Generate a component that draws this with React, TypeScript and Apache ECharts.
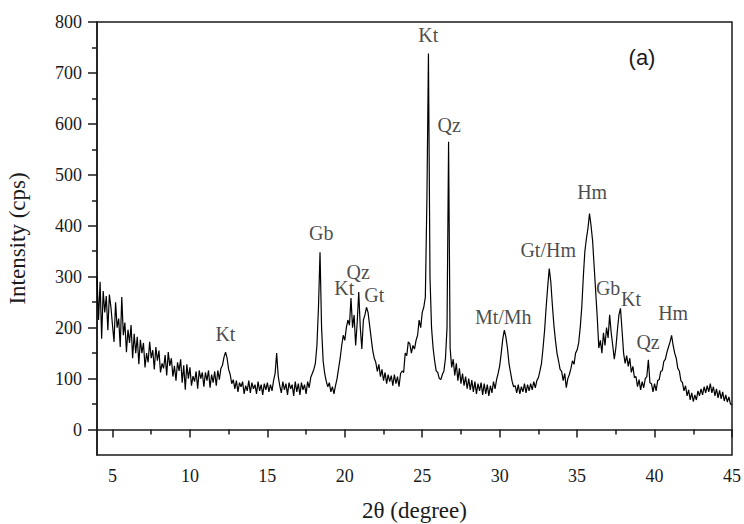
import React, { useEffect, useRef } from "react";
import * as echarts from "echarts";

// 2θ grid of the scan (degrees)
const START_ANGLE = 4.0;
const STEP_ANGLE = 0.1;

// Intensity (cps), one row per degree (x.0 ... x.9)
const intensity = [
  300, 215, 290, 178, 272, 230, 262, 195, 265, 240, // 4
  205, 172, 250, 200, 218, 162, 260, 185, 210, 152, // 5
  196, 170, 205, 140, 188, 150, 182, 128, 176, 150, // 6
  170, 122, 150, 132, 172, 140, 156, 118, 162, 135, // 7
  155, 112, 130, 120, 146, 106, 152, 125, 140, 104, // 8
  125, 96, 132, 115, 138, 92, 126, 78, 128, 100, // 9
  122, 86, 105, 94, 114, 80, 116, 100, 112, 84, // 10
  112, 96, 116, 82, 108, 92, 114, 86, 116, 98, // 11
  120, 126, 142, 152, 140, 118, 108, 90, 98, 80, // 12
  96, 74, 92, 84, 94, 70, 86, 76, 96, 72, // 13
  92, 80, 88, 70, 94, 76, 88, 68, 90, 78, // 14
  92, 74, 88, 76, 96, 110, 150, 105, 86, 72, // 15
  94, 78, 90, 68, 92, 80, 88, 66, 94, 74, // 16
  90, 68, 92, 78, 88, 70, 94, 82, 102, 110, // 17
  118, 130, 165, 240, 348, 200, 135, 110, 95, 84, // 18
  92, 74, 84, 70, 86, 100, 120, 140, 165, 185, // 19
  175, 200, 215, 205, 258, 200, 225, 165, 210, 270, // 20
  200, 158, 215, 225, 240, 230, 205, 180, 156, 140, // 21
  132, 114, 128, 104, 118, 96, 112, 90, 108, 94, // 22
  106, 86, 108, 90, 104, 84, 110, 115, 112, 150, // 23
  145, 172, 168, 150, 165, 158, 175, 185, 215, 200, // 24
  230, 240, 260, 450, 738, 300, 200, 160, 135, 115, // 25
  112, 100, 98, 108, 115, 140, 200, 565, 160, 122, // 26
  138, 106, 130, 96, 120, 90, 110, 86, 104, 80, // 27
  100, 78, 97, 74, 94, 70, 90, 76, 92, 68, // 28
  90, 70, 88, 66, 86, 72, 94, 80, 98, 110, // 29
  125, 150, 178, 195, 182, 160, 130, 112, 95, 84, // 30
  86, 72, 88, 70, 84, 74, 90, 72, 88, 76, // 31
  90, 78, 94, 82, 96, 102, 115, 130, 160, 195, // 32
  240, 280, 316, 290, 245, 205, 175, 150, 135, 118, // 33
  114, 96, 110, 82, 100, 108, 120, 135, 128, 150, // 34
  156, 170, 200, 240, 300, 350, 375, 395, 424, 400, // 35
  370, 320, 270, 220, 160, 175, 150, 190, 165, 200, // 36
  180, 225, 190, 165, 138, 160, 195, 225, 238, 195, // 37
  150, 130, 145, 124, 140, 112, 124, 102, 104, 84, // 38
  98, 78, 94, 82, 100, 104, 137, 92, 90, 74, // 39
  90, 76, 96, 98, 114, 116, 134, 138, 152, 162, // 40
  172, 185, 165, 150, 140, 120, 115, 96, 92, 76, // 41
  86, 66, 78, 58, 72, 55, 68, 58, 76, 66, // 42
  80, 68, 84, 72, 86, 74, 90, 72, 84, 66, // 43
  80, 62, 77, 60, 74, 56, 68, 54, 64, 50, // 44
  48, // 45
];

const xTickValues = [5, 10, 15, 20, 25, 30, 35, 40, 45];
const xMinorTickValues = [7.5, 12.5, 17.5, 22.5, 27.5, 32.5, 37.5, 42.5];
const yTickValues = [0, 100, 200, 300, 400, 500, 600, 700, 800];
const yMinorTickValues = [50, 150, 250, 350, 450, 550, 650, 750];

const peakLabels = ["Kt", "Gb", "Kt", "Qz", "Gt", "Kt", "Qz", "Mt/Mh", "Gt/Hm", "Hm", "Gb", "Kt", "Qz", "Hm"];
const peakLabelX = [12.29, 18.48, 19.97, 20.87, 21.9, 25.39, 26.74, 30.23, 33.13, 35.97, 37.0, 38.48, 39.58, 41.2];
const peakLabelY = [188, 385, 277, 309, 264, 774, 597, 220, 352, 466, 277, 256, 172, 229];

const SERIF = '"Liberation Serif", "DejaVu Serif", serif';
const INK = "#1a1a1a";

export default function App() {
  const ref = useRef<HTMLDivElement>(null);

  useEffect(() => {
    if (!ref.current) return;
    const chart = echarts.init(ref.current, undefined, { renderer: "svg" });

    const lineData = intensity.map((v, i) => [
      Number((START_ANGLE + i * STEP_ANGLE).toFixed(2)),
      v,
    ]);
    const labelData = peakLabels.map((name, i) => ({
      name,
      value: [peakLabelX[i], peakLabelY[i]],
    }));

    const axisLineStyle = { color: INK, width: 1.5 };

    chart.setOption({
      animation: false,
      backgroundColor: "#ffffff",
      grid: {
        left: 97,
        right: 12,
        top: 22,
        bottom: 69,
        containLabel: false,
        outerBoundsMode: "none",
        show: true,
        borderColor: INK,
        borderWidth: 1.5,
        backgroundColor: "transparent",
      },
      graphic: [
        {
          type: "text",
          x: 642,
          y: 57,
          style: {
            text: "(a)",
            fontSize: 22,
            fontFamily: '"Liberation Sans", Arial, sans-serif',
            fill: INK,
            align: "center",
            verticalAlign: "middle",
          },
        },
      ],
      xAxis: [
        {
          type: "value",
          min: 4,
          max: 45,
          name: "2θ (degree)",
          nameLocation: "middle",
          nameGap: 44,
          nameTextStyle: { fontFamily: SERIF, fontSize: 23, color: INK },
          axisLine: { show: true, lineStyle: axisLineStyle },
          axisTick: {
            show: true,
            inside: false,
            length: 8,
            customValues: xTickValues,
            lineStyle: { color: INK, width: 1.5 },
          },
          axisLabel: {
            show: true,
            customValues: xTickValues,
            margin: 12,
            fontFamily: SERIF,
            fontSize: 18,
            color: INK,
          },
          splitLine: { show: false },
        },
        {
          type: "value",
          min: 4,
          max: 45,
          position: "bottom",
          axisLine: { show: false },
          axisTick: {
            show: true,
            length: 5,
            customValues: xMinorTickValues,
            lineStyle: { color: INK, width: 1.5 },
          },
          axisLabel: { show: false },
          splitLine: { show: false },
        },
      ],
      yAxis: [
        {
          type: "value",
          min: -50,
          max: 800,
          name: "Intensity (cps)",
          nameLocation: "middle",
          nameGap: 68,
          nameRotate: 90,
          nameTextStyle: { fontFamily: SERIF, fontSize: 23, color: INK },
          axisLine: { show: true, lineStyle: axisLineStyle },
          axisTick: {
            show: true,
            length: 9,
            customValues: yTickValues,
            lineStyle: { color: INK, width: 1.5 },
          },
          axisLabel: {
            show: true,
            customValues: yTickValues,
            margin: 15,
            fontFamily: SERIF,
            fontSize: 18,
            color: INK,
          },
          splitLine: { show: false },
        },
        {
          type: "value",
          min: -50,
          max: 800,
          position: "left",
          axisLine: { show: false },
          axisTick: {
            show: true,
            length: 5,
            customValues: yMinorTickValues,
            lineStyle: { color: INK, width: 1.5 },
          },
          axisLabel: { show: false },
          splitLine: { show: false },
        },
      ],
      series: [
        {
          type: "line",
          xAxisIndex: 0,
          yAxisIndex: 0,
          data: lineData,
          showSymbol: false,
          symbol: "none",
          lineStyle: { color: "#000000", width: 1.2 },
          silent: true,
        },
        {
          type: "scatter",
          xAxisIndex: 0,
          yAxisIndex: 0,
          data: labelData,
          symbolSize: 0,
          silent: true,
          label: {
            show: true,
            position: "inside",
            formatter: (p: any) => p.name,
            fontFamily: SERIF,
            fontSize: 20,
            color: INK,
          },
        },
      ],
    });

    return () => chart.dispose();
  }, []);

  return (
    <div
      ref={ref}
      style={{ position: "absolute", left: 0, top: 0, width: 744, height: 524 }}
    />
  );
}
